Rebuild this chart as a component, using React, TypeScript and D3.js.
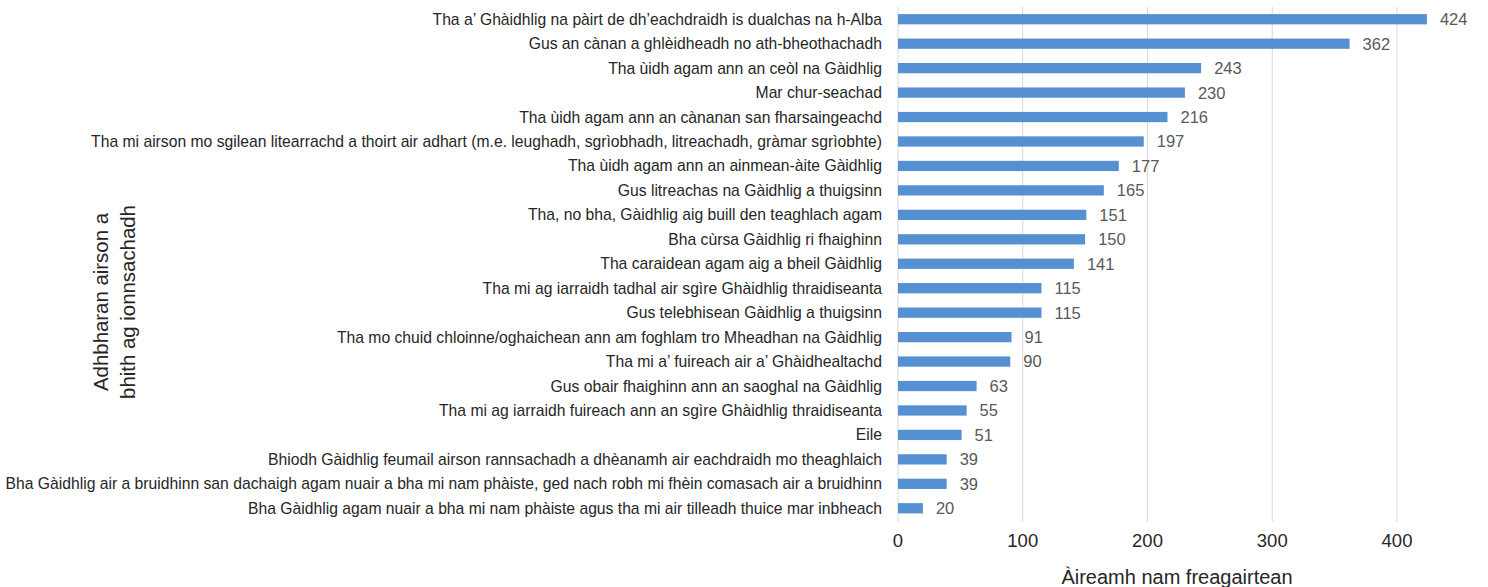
import React from "react";
import * as d3 from "d3";

// reasons for learning Gaelic, count of responses
const categories = [
  "Tha a’ Ghàidhlig na pàirt de dh’eachdraidh is dualchas na h-Alba",
  "Gus an cànan a ghlèidheadh no ath-bheothachadh",
  "Tha ùidh agam ann an ceòl na Gàidhlig",
  "Mar chur-seachad",
  "Tha ùidh agam ann an cànanan san fharsaingeachd",
  "Tha mi airson mo sgilean litearrachd a thoirt air adhart (m.e. leughadh, sgrìobhadh, litreachadh, gràmar sgrìobhte)",
  "Tha ùidh agam ann an ainmean-àite Gàidhlig",
  "Gus litreachas na Gàidhlig a thuigsinn",
  "Tha, no bha, Gàidhlig aig buill den teaghlach agam",
  "Bha cùrsa Gàidhlig ri fhaighinn",
  "Tha caraidean agam aig a bheil Gàidhlig",
  "Tha mi ag iarraidh tadhal air sgìre Ghàidhlig thraidiseanta",
  "Gus telebhisean Gàidhlig a thuigsinn",
  "Tha mo chuid chloinne/oghaichean ann am foghlam tro Mheadhan na Gàidhlig",
  "Tha mi a’ fuireach air a’ Ghàidhealtachd",
  "Gus obair fhaighinn ann an saoghal na Gàidhlig",
  "Tha mi ag iarraidh fuireach ann an sgìre Ghàidhlig thraidiseanta",
  "Eile",
  "Bhiodh Gàidhlig feumail airson rannsachadh a dhèanamh air eachdraidh mo theaghlaich",
  "Bha Gàidhlig air a bruidhinn san dachaigh agam nuair a bha mi nam phàiste, ged nach robh mi fhèin comasach air a bruidhinn",
  "Bha Gàidhlig agam nuair a bha mi nam phàiste agus tha mi air tilleadh thuice mar inbheach",
];
const values = [424, 362, 243, 230, 216, 197, 177, 165, 151, 150, 141, 115, 115, 91, 90, 63, 55, 51, 39, 39, 20];
const xTicks = [0, 100, 200, 300, 400];
const xTitle = "Àireamh nam freagairtean";
const yTitle = ["Adhbharan airson a", "bhith ag ionnsachadh"];

const W = 1488;
const H = 587;
const font = "'Liberation Sans', Arial, sans-serif";

export default function App() {
  const x = d3.scaleLinear().domain([0, 100]).range([898, 1022.75]);
  const y = d3.scaleBand<string>().domain(categories).range([7, 520.5]).paddingInner(0.58).paddingOuter(0.29);
  const bw = y.bandwidth();

  return (
    <svg width={W} height={H} style={{ position: "absolute", left: 0, top: 0, background: "#fff" }}>
      {xTicks.map((t) => (
        <line key={t} x1={x(t)} x2={x(t)} y1={7} y2={522} stroke="#d9d9d9" strokeWidth={1} />
      ))}
      {categories.map((c, i) => (
        <g key={c}>
          <rect x={x(0)} y={y(c)} width={x(values[i]) - x(0)} height={bw} fill="#5590d2" />
          <text x={882} y={(y(c) as number) + bw / 2} dy="0.35em" textAnchor="end" fontFamily={font} fontSize={15.7} fill="#262626">
            {c}
          </text>
          <text x={x(values[i]) + 13} y={(y(c) as number) + bw / 2} dy="0.36em" fontFamily={font} fontSize={16.5} fill="#595959">
            {values[i]}
          </text>
        </g>
      ))}
      {xTicks.map((t) => (
        <text key={t} x={x(t)} y={547} textAnchor="middle" fontFamily={font} fontSize={18.5} fill="#262626">
          {t}
        </text>
      ))}
      <text x={1177} y={584} textAnchor="middle" fontFamily={font} fontSize={20} fill="#262626">
        {xTitle}
      </text>
      <text transform="translate(108,302) rotate(-90)" textAnchor="middle" fontFamily={font} fontSize={20.4} fill="#262626">
        <tspan x={0} dy={0}>{yTitle[0]}</tspan>
        <tspan x={0} dy={27}>{yTitle[1]}</tspan>
      </text>
    </svg>
  );
}
